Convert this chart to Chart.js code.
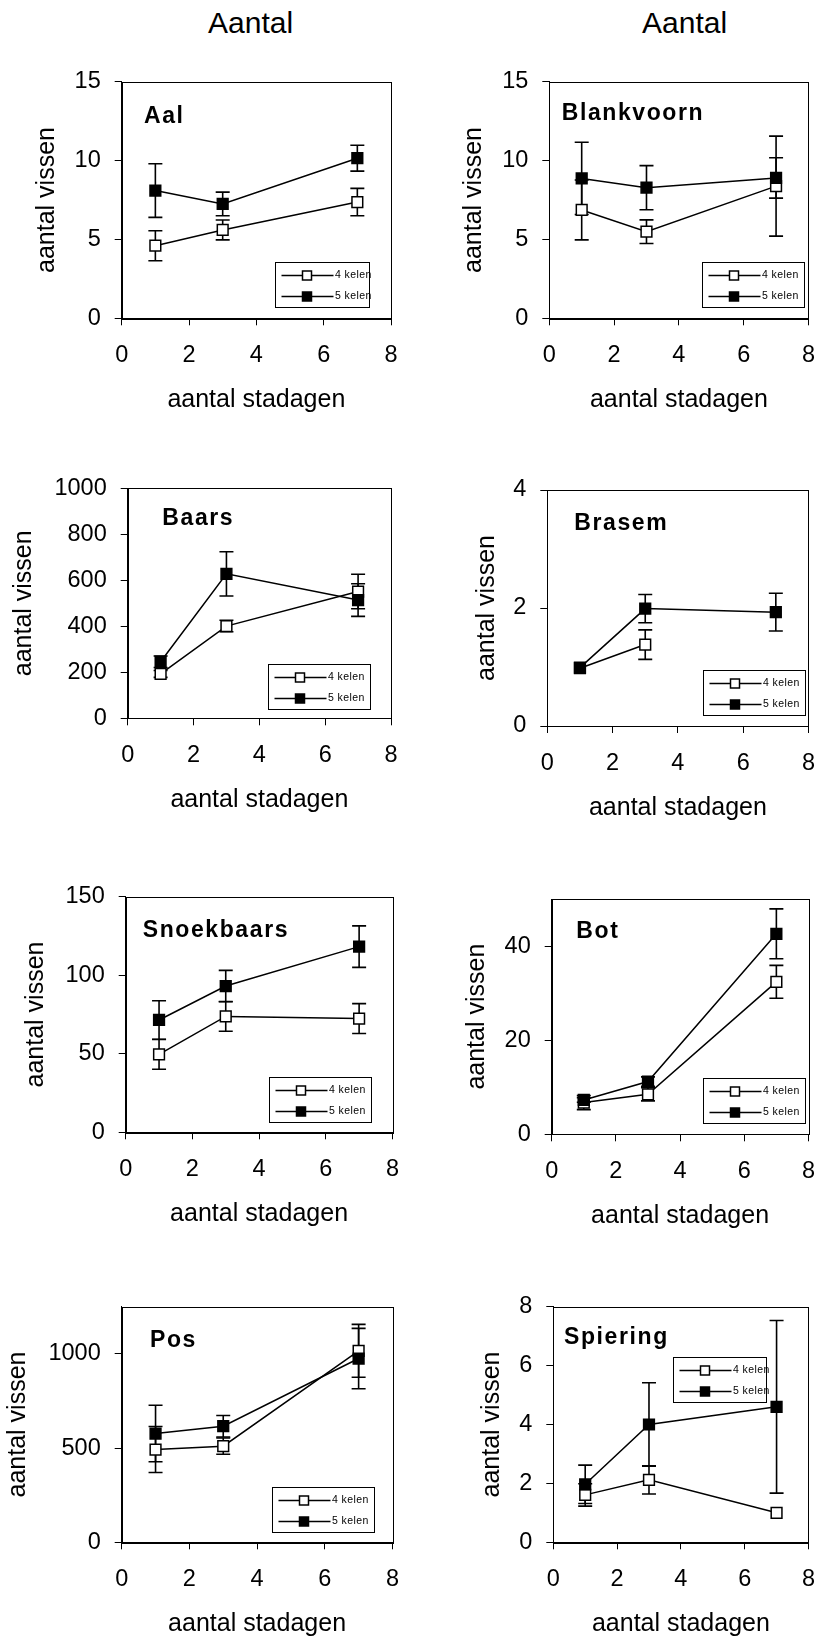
<!DOCTYPE html>
<html>
<head>
<meta charset="utf-8">
<script src="https://cdn.jsdelivr.net/npm/chart.js@4.4.1/dist/chart.umd.min.js"></script>
<style>
  html, body { margin: 0; padding: 0; background: #fff; }
  body { width: 831px; height: 1642px; position: relative; overflow: hidden; }
  canvas { position: absolute; }
  .head { position: absolute; top: 6px; font: 30px "Liberation Sans", Arial, sans-serif; color: #000; white-space: nowrap; }
</style>
</head>
<body>
<div class="head" style="left:208px">Aantal</div>
<div class="head" style="left:642px">Aantal</div>
<script>
// days on the x axis, shared by every panel
const xDays = [1, 3, 7];
const xTicks = [0, 2, 4, 6, 8];
const seriesNames = ['4 kelen', '5 kelen'];

// Aal
const aal4 = [4.6, 5.6, 7.37];
const aal4Err = [0.95, 0.63, 0.87];
const aal5 = [8.1, 7.25, 10.15];
const aal5Err = [1.7, 0.75, 0.82];
const aalTicks = [0, 5, 10, 15];

// Blankvoorn
const blank4 = [6.87, 5.49, 8.38];
const blank4Err = [1.9, 0.75, 3.17];
const blank5 = [8.87, 8.28, 8.9];
const blank5Err = [2.29, 1.4, 1.28];
const blankTicks = [0, 5, 10, 15];

// Baars
const baars4 = [193, 401, 551];
const baars4Err = [15, 25, 75];
const baars5 = [246, 628, 514];
const baars5Err = [25, 96, 71];
const baarsTicks = [0, 200, 400, 600, 800, 1000];

// Brasem
const brasem4 = [0.98, 1.38, null];
const brasem4Err = [0, 0.25, 0];
const brasem5 = [0.99, 1.99, 1.93];
const brasem5Err = [0, 0.24, 0.32];
const brasemTicks = [0, 2, 4];

// Snoekbaars
const snoek4 = [49.6, 73.8, 72.4];
const snoek4Err = [9.5, 9.5, 9.5];
const snoek5 = [71.5, 93.1, 118.2];
const snoek5Err = [12.3, 10, 13.2];
const snoekTicks = [0, 50, 100, 150];

// Bot
const bot4 = [6.75, 8.5, 32.4];
const bot4Err = [1.5, 1.4, 3.5];
const bot5 = [7.3, 11.2, 42.6];
const bot5Err = [0.5, 1, 5.3];
const botTicks = [0, 20, 40];

// Pos
const pos4 = [492, 510, 1016];
const pos4Err = [122, 43, 140];
const pos5 = [577, 616, 975];
const pos5Err = [150, 57, 160];
const posTicks = [0, 500, 1000];

// Spiering
const spier4 = [1.61, 2.12, 1.0];
const spier4Err = [0.38, 0.48, 0];
const spier5 = [1.97, 4.0, 4.6];
const spier5Err = [0.65, 1.42, 2.93];
const spierTicks = [0, 2, 4, 6, 8];

const FONT = '"Liberation Sans", Arial, sans-serif';
Chart.defaults.font.family = FONT;
Chart.defaults.color = '#000';

// cell = canvas box on the page, area = plot box on the page
const panels = [
  { name: 'Aal', s4: aal4, e4: aal4Err, s5: aal5, e5: aal5Err, ticks: aalTicks, max: 15,
    cell: [0, 0, 415, 416], area: [121.7, 81.7, 391, 318.3], yTitleX: 46.7, label: [22.3, 34.5], legend: [153, 180, 94] },
  { name: 'Blankvoorn', s4: blank4, e4: blank4Err, s5: blank5, e5: blank5Err, ticks: blankTicks, max: 15,
    cell: [415, 0, 416, 416], area: [549.3, 81.7, 819.3, 318.3], yTitleX: 474, label: [12.4, 32], legend: [153, 180, 102] },
  { name: 'Baars', s4: baars4, e4: baars4Err, s5: baars5, e5: baars5Err, ticks: baarsTicks, max: 1000,
    cell: [0, 416, 415, 410], area: [127.7, 488.3, 391, 718.3], yTitleX: 24, label: [34.6, 30], legend: [140, 176, 102] },
  { name: 'Brasem', s4: brasem4, e4: brasem4Err, s5: brasem5, e5: brasem5Err, ticks: brasemTicks, max: 4,
    cell: [415, 416, 416, 410], area: [547.3, 490, 819.3, 726], yTitleX: 486.8, label: [27, 33.3], legend: [156, 180, 102] },
  { name: 'Snoekbaars', s4: snoek4, e4: snoek4Err, s5: snoek5, e5: snoek5Err, ticks: snoekTicks, max: 150,
    cell: [0, 826, 415, 410], area: [125.7, 896.7, 393.3, 1132.3], yTitleX: 35.8, label: [17, 34], legend: [143, 180, 102] },
  { name: 'Bot', s4: bot4, e4: bot4Err, s5: bot5, e5: bot5Err, ticks: botTicks, max: 50,
    cell: [415, 826, 416, 410], area: [551.7, 899, 819.3, 1134.3], yTitleX: 477, label: [24.6, 33], legend: [151, 179, 102] },
  { name: 'Pos', s4: pos4, e4: pos4Err, s5: pos5, e5: pos5Err, ticks: posTicks, max: 1250,
    cell: [0, 1236, 415, 406], area: [121.7, 1306.7, 393.3, 1542.3], yTitleX: 18.3, label: [28.3, 33.6], legend: [150, 180, 102] },
  { name: 'Spiering', s4: spier4, e4: spier4Err, s5: spier5, e5: spier5Err, ticks: spierTicks, max: 8,
    cell: [415, 1236, 416, 406], area: [553.3, 1306.7, 819.3, 1542.3], yTitleX: 492, label: [10.7, 31.3], legend: [120, 50, 93] }
];

const frame = {
  id: 'frame',
  beforeDatasetsDraw(chart) {
    const { ctx, chartArea: a } = chart;
    ctx.save();
    ctx.strokeStyle = '#000';
    ctx.lineWidth = 1;
    ctx.strokeRect(Math.round(a.left) + 0.5, Math.round(a.top) + 0.5,
      Math.round(a.right - a.left), Math.round(a.bottom - a.top));
    ctx.restore();
  }
};

const errorBars = {
  id: 'errorBars',
  beforeDatasetsDraw(chart) {
    const { ctx } = chart;
    const y = chart.scales.y;
    ctx.save();
    ctx.strokeStyle = '#000';
    ctx.lineWidth = 1.6;
    chart.data.datasets.forEach((ds, i) => {
      const meta = chart.getDatasetMeta(i);
      meta.data.forEach((pt, j) => {
        const v = ds.data[j].y;
        const e = ds.errors[j];
        if (v == null || !e) return;
        const top = y.getPixelForValue(v + e);
        const bot = y.getPixelForValue(v - e);
        ctx.beginPath();
        ctx.moveTo(pt.x, top); ctx.lineTo(pt.x, bot);
        ctx.moveTo(pt.x - 7, top); ctx.lineTo(pt.x + 7, top);
        ctx.moveTo(pt.x - 7, bot); ctx.lineTo(pt.x + 7, bot);
        ctx.stroke();
      });
    });
    ctx.restore();
  }
};

const panelLabel = {
  id: 'panelLabel',
  afterDatasetsDraw(chart, args, opts) {
    const { ctx, chartArea: a } = chart;
    ctx.save();
    ctx.fillStyle = '#000';
    ctx.font = 'bold 23px ' + FONT;
    ctx.letterSpacing = '1.6px';
    ctx.textBaseline = 'middle';
    ctx.fillText(opts.text, a.left + opts.dx, a.top + opts.dy);
    ctx.restore();
  }
};

const boxLegend = {
  id: 'boxLegend',
  afterDatasetsDraw(chart, args, opts) {
    const { ctx, chartArea: a } = chart;
    const x0 = Math.round(a.left + opts.x) + 0.5;
    const y0 = Math.round(a.top + opts.y) + 0.5;
    ctx.save();
    ctx.fillStyle = '#fff';
    ctx.fillRect(x0, y0, opts.w, 45);
    ctx.strokeStyle = '#000';
    ctx.lineWidth = 1;
    ctx.strokeRect(x0, y0, opts.w, 45);
    chart.data.datasets.forEach((ds, i) => {
      const ry = y0 + 13 + i * 21;
      ctx.lineWidth = 1.5;
      ctx.beginPath();
      ctx.moveTo(x0 + 6, ry);
      ctx.lineTo(x0 + 58, ry);
      ctx.stroke();
      ctx.fillStyle = ds.pointBackgroundColor;
      ctx.fillRect(x0 + 27, ry - 4.5, 9, 9);
      ctx.strokeRect(x0 + 27, ry - 4.5, 9, 9);
      ctx.fillStyle = '#000';
      ctx.font = '10.5px ' + FONT;
      ctx.letterSpacing = '0.4px';
      ctx.textBaseline = 'middle';
      ctx.fillText(ds.label, x0 + 59.5, ry);
    });
    ctx.restore();
  }
};

function makeSet(label, values, errors, fill, order) {
  return {
    label: label,
    data: xDays.map((x, i) => ({ x: x, y: values[i] })),
    errors: errors,
    borderColor: '#000',
    borderWidth: 1.5,
    pointStyle: 'rect',
    pointRadius: 7.6,
    pointBorderWidth: 1.5,
    pointBorderColor: '#000',
    pointBackgroundColor: fill,
    tension: 0,
    fill: false,
    order: order
  };
}

function makeChart(p) {
  const [cx, cy, cw, ch] = p.cell;
  const [L, T, R, B] = p.area;
  const axisLeft = p.yTitleX - 15;
  const xAxisHeight = 97;
  const canvas = document.createElement('canvas');
  canvas.width = cw;
  canvas.height = ch;
  canvas.style.left = cx + 'px';
  canvas.style.top = cy + 'px';
  document.body.appendChild(canvas);

  new Chart(canvas, {
    type: 'line',
    data: {
      datasets: [
        makeSet(seriesNames[0], p.s4, p.e4, '#fff', 2),
        makeSet(seriesNames[1], p.s5, p.e5, '#000', 1)
      ]
    },
    options: {
      responsive: false,
      animation: false,
      layout: {
        padding: { left: axisLeft - cx, top: T - cy, right: cx + cw - R, bottom: cy + ch - B - xAxisHeight }
      },
      plugins: {
        legend: { display: false },
        tooltip: { enabled: false },
        panelLabel: { text: p.name, dx: p.label[0], dy: p.label[1] },
        boxLegend: { x: p.legend[0], y: p.legend[1], w: p.legend[2] }
      },
      scales: {
        x: {
          type: 'linear',
          min: 0,
          max: 8,
          afterBuildTicks: axis => { axis.ticks = xTicks.map(v => ({ value: v })); },
          afterFit: axis => { axis.height = xAxisHeight; },
          grid: { drawOnChartArea: false, drawTicks: true, tickLength: 7, color: '#000' },
          border: { color: '#000', width: 1 },
          ticks: { font: { size: 23.5 }, padding: 16, maxRotation: 0, callback: v => String(v) },
          title: { display: true, text: 'aantal stadagen', font: { size: 25 }, padding: 0 }
        },
        y: {
          min: 0,
          max: p.max,
          afterBuildTicks: axis => { axis.ticks = p.ticks.map(v => ({ value: v })); },
          afterFit: axis => { axis.width = L - axisLeft; },
          grid: { drawOnChartArea: false, drawTicks: true, tickLength: 7, color: '#000' },
          border: { color: '#000', width: 1 },
          ticks: { font: { size: 23.5 }, padding: 14, callback: v => String(v) },
          title: { display: true, text: 'aantal vissen', font: { size: 25 }, padding: 0 }
        }
      }
    },
    plugins: [frame, errorBars, panelLabel, boxLegend]
  });
}

panels.forEach(makeChart);
</script>
</body>
</html>
